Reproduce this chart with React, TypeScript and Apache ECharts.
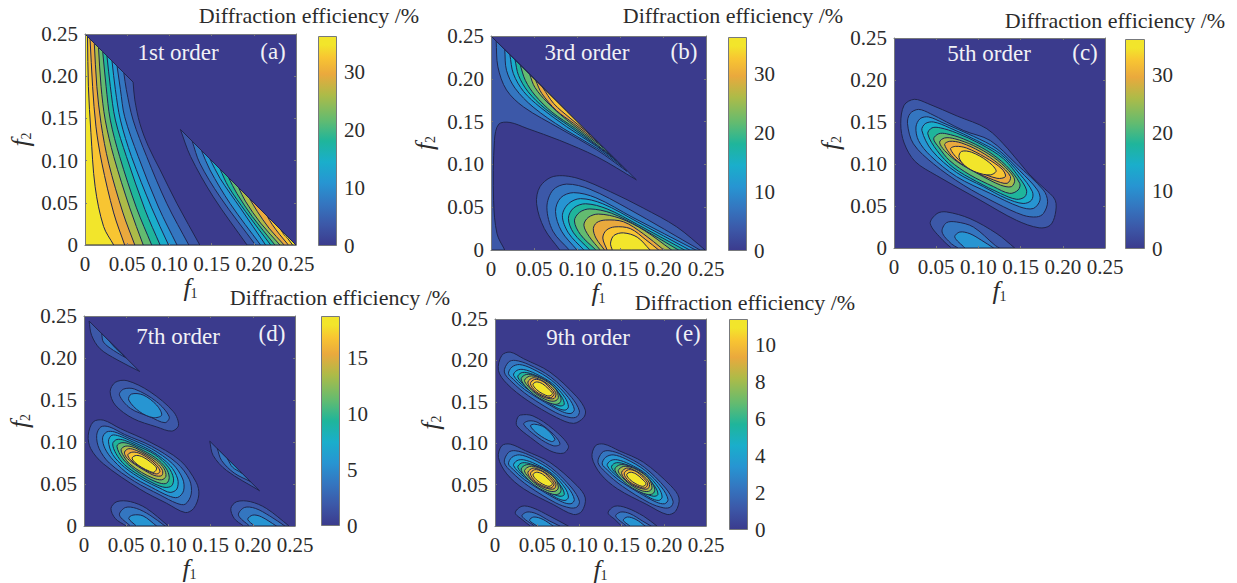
import React, { useEffect, useRef } from "react";
import * as echarts from "echarts";

// [band, [[f1, f2, isCorner?], ...]] — contour outlines
type Pt = number[];
type Contour = [number, Pt[]];

const tickValues = ["0", "0.05", "0.10", "0.15", "0.20", "0.25"];
const barMaxima = [36.3, 36.3, 36.3, 18.75, 11.4];
const barIntervals = [10, 10, 10, 5, 2];
const orderLabels = ["1st order", "3rd order", "5th order", "7th order", "9th order"];
const panelTags = ["(a)", "(b)", "(c)", "(d)", "(e)"];
const barTitle = "Diffraction efficiency /%";

const contoursA: Contour[] = [
  [1, [[0, 0, 1], [0, 0.25, 1], [0.057, 0.193, 1], [0.059, 0.172], [0.065, 0.144], [0.075, 0.117], [0.089, 0.089], [0.109, 0.049], [0.136, 0, 1]]],
  [2, [[0, 0, 1], [0, 0.25, 1], [0.046, 0.204, 1], [0.049, 0.184], [0.057, 0.148], [0.073, 0.105], [0.097, 0.049], [0.123, 0, 1]]],
  [3, [[0, 0, 1], [0, 0.25, 1], [0.038, 0.212, 1], [0.042, 0.184], [0.047, 0.152], [0.063, 0.105], [0.087, 0.045], [0.109, 0, 1]]],
  [4, [[0, 0, 1], [0, 0.25, 1], [0.032, 0.218, 1], [0.036, 0.184], [0.042, 0.148], [0.055, 0.105], [0.079, 0.044], [0.099, 0, 1]]],
  [5, [[0, 0, 1], [0, 0.25, 1], [0.026, 0.224, 1], [0.03, 0.188], [0.036, 0.148], [0.049, 0.105], [0.071, 0.042], [0.089, 0, 1]]],
  [6, [[0, 0, 1], [0, 0.25, 1], [0.021, 0.229, 1], [0.025, 0.188], [0.03, 0.148], [0.041, 0.105], [0.061, 0.044], [0.079, 0, 1]]],
  [7, [[0, 0, 1], [0, 0.25, 1], [0.016, 0.234, 1], [0.019, 0.188], [0.024, 0.148], [0.034, 0.105], [0.053, 0.044], [0.069, 0, 1]]],
  [8, [[0, 0, 1], [0, 0.25, 1], [0.011, 0.239, 1], [0.014, 0.188], [0.019, 0.144], [0.028, 0.097], [0.045, 0.038], [0.059, 0, 1]]],
  [9, [[0, 0, 1], [0, 0.25, 1], [0.006, 0.244, 1], [0.009, 0.188], [0.013, 0.14], [0.02, 0.097], [0.034, 0.038], [0.047, 0, 1]]],
  [10, [[0, 0, 1], [0, 0.25, 1], [0.003, 0.247, 1], [0.004, 0.188], [0.007, 0.133], [0.012, 0.069], [0.022, 0.022], [0.034, 0, 1]]],
  [1, [[0.25, 0, 1], [0.113, 0.137, 1], [0.125, 0.105], [0.152, 0.057], [0.192, 0, 1]]],
  [2, [[0.25, 0, 1], [0.127, 0.123, 1], [0.136, 0.097], [0.16, 0.057], [0.202, 0, 1]]],
  [3, [[0.25, 0, 1], [0.138, 0.112, 1], [0.148, 0.089], [0.172, 0.049], [0.208, 0, 1]]],
  [4, [[0.25, 0, 1], [0.148, 0.102, 1], [0.16, 0.079], [0.184, 0.044], [0.214, 0, 1]]],
  [5, [[0.25, 0, 1], [0.16, 0.09, 1], [0.17, 0.069], [0.19, 0.04], [0.22, 0, 1]]],
  [6, [[0.25, 0, 1], [0.17, 0.08, 1], [0.18, 0.061], [0.198, 0.034], [0.225, 0, 1]]],
  [7, [[0.25, 0, 1], [0.182, 0.068, 1], [0.19, 0.052], [0.208, 0.026], [0.231, 0, 1]]],
  [8, [[0.25, 0, 1], [0.195, 0.055, 1], [0.204, 0.04], [0.218, 0.02], [0.236, 0, 1]]],
  [9, [[0.25, 0, 1], [0.216, 0.034, 1], [0.222, 0.024], [0.231, 0.012], [0.241, 0, 1]]],
  [10, [[0.25, 0, 1], [0.232, 0.018, 1], [0.236, 0.012], [0.24, 0.008], [0.246, 0, 1]]],
];

const contoursB: Contour[] = [
  [1, [[0, 0, 1], [0, 0.25, 1], [0.169, 0.082, 1], [0.123, 0.109], [0.08, 0.128], [0.042, 0.142], [0.022, 0.149], [0.009, 0.147], [0.004, 0.128], [0.003, 0.058], [0.007, 0.019], [0.016, 0, 1]]],
  [2, [[0.006, 0.244, 1], [0.008, 0.214], [0.018, 0.187], [0.038, 0.167], [0.08, 0.142], [0.123, 0.117], [0.158, 0.092, 1]]],
  [3, [[0.016, 0.234, 1], [0.018, 0.21], [0.028, 0.189], [0.049, 0.167], [0.084, 0.142], [0.123, 0.119], [0.152, 0.098, 1]]],
  [4, [[0.022, 0.228, 1], [0.026, 0.206], [0.038, 0.185], [0.057, 0.167], [0.088, 0.144], [0.123, 0.121], [0.146, 0.104, 1]]],
  [5, [[0.028, 0.222, 1], [0.032, 0.204], [0.043, 0.185], [0.063, 0.165], [0.092, 0.144], [0.123, 0.122], [0.142, 0.108, 1]]],
  [6, [[0.034, 0.216, 1], [0.04, 0.198], [0.051, 0.181], [0.071, 0.161], [0.098, 0.142], [0.139, 0.111, 1]]],
  [7, [[0.045, 0.205, 1], [0.051, 0.19], [0.065, 0.173], [0.088, 0.152], [0.13, 0.12, 1]]],
  [8, [[0.052, 0.198, 1], [0.059, 0.183], [0.076, 0.163], [0.096, 0.148], [0.124, 0.126, 1]]],
  [9, [[0.06, 0.19, 1], [0.073, 0.171], [0.092, 0.154], [0.115, 0.135, 1]]],
  [1, [[0.08, 0, 1], [0.062, 0.025], [0.053, 0.054], [0.057, 0.074], [0.073, 0.086], [0.1, 0.084], [0.139, 0.068], [0.177, 0.049], [0.216, 0.027], [0.249, 0, 1]]],
  [2, [[0.091, 0, 1], [0.072, 0.022], [0.065, 0.05], [0.072, 0.07], [0.088, 0.077], [0.115, 0.071], [0.16, 0.048], [0.243, 0, 1]]],
  [3, [[0.1, 0, 1], [0.082, 0.022], [0.075, 0.045], [0.081, 0.061], [0.096, 0.067], [0.122, 0.061], [0.165, 0.038], [0.238, 0, 1]]],
  [4, [[0.108, 0, 1], [0.09, 0.02], [0.083, 0.04], [0.09, 0.054], [0.104, 0.06], [0.13, 0.054], [0.17, 0.033], [0.231, 0, 1]]],
  [5, [[0.115, 0, 1], [0.096, 0.02], [0.09, 0.037], [0.096, 0.049], [0.11, 0.054], [0.135, 0.048], [0.17, 0.03], [0.225, 0, 1]]],
  [6, [[0.122, 0, 1], [0.104, 0.018], [0.097, 0.034], [0.103, 0.044], [0.115, 0.048], [0.14, 0.043], [0.172, 0.027], [0.218, 0, 1]]],
  [7, [[0.127, 0, 1], [0.114, 0.016], [0.108, 0.029], [0.113, 0.038], [0.125, 0.042], [0.15, 0.037], [0.178, 0.023], [0.21, 0, 1]]],
  [8, [[0.132, 0, 1], [0.122, 0.014], [0.119, 0.025], [0.123, 0.032], [0.133, 0.035], [0.154, 0.033], [0.177, 0.019], [0.201, 0, 1]]],
  [9, [[0.135, 0, 1], [0.13, 0.014], [0.134, 0.023], [0.144, 0.027], [0.162, 0.025], [0.18, 0.012], [0.195, 0, 1]]],
  [10, [[0.141, 0, 1], [0.139, 0.008], [0.143, 0.017], [0.154, 0.02], [0.17, 0.015], [0.185, 0, 1]]],
];

const contoursC: Contour[] = [
  [1, [[0.008, 0.148], [0.012, 0.17], [0.024, 0.177], [0.04, 0.172], [0.075, 0.157], [0.11, 0.142], [0.135, 0.118], [0.16, 0.088], [0.178, 0.071], [0.191, 0.057], [0.191, 0.04], [0.185, 0.027], [0.172, 0.024], [0.145, 0.033], [0.102, 0.057], [0.05, 0.0865], [0.025, 0.103], [0.012, 0.125]]],
  [2, [[0.016, 0.148], [0.019, 0.16], [0.029, 0.165], [0.043, 0.16], [0.082, 0.14], [0.114, 0.128], [0.145, 0.1], [0.177, 0.069], [0.182, 0.055], [0.177, 0.041], [0.169, 0.037], [0.153, 0.039], [0.122, 0.053], [0.082, 0.075], [0.047, 0.1], [0.023, 0.124]]],
  [3, [[0.026, 0.144], [0.031, 0.154], [0.041, 0.156], [0.058, 0.149], [0.094, 0.133], [0.122, 0.118], [0.149, 0.092], [0.17, 0.069], [0.173, 0.057], [0.165, 0.047], [0.149, 0.049], [0.114, 0.065], [0.074, 0.085], [0.043, 0.11], [0.029, 0.128]]],
  [4, [[0.033, 0.14], [0.037, 0.148], [0.047, 0.15], [0.066, 0.143], [0.098, 0.128], [0.126, 0.112], [0.149, 0.088], [0.164, 0.067], [0.163, 0.057], [0.153, 0.053], [0.133, 0.059], [0.106, 0.073], [0.074, 0.09], [0.045, 0.116]]],
  [5, [[0.04, 0.136], [0.045, 0.143], [0.055, 0.143], [0.074, 0.137], [0.102, 0.124], [0.13, 0.106], [0.149, 0.083], [0.157, 0.069], [0.155, 0.061], [0.145, 0.058], [0.126, 0.065], [0.098, 0.079], [0.07, 0.096], [0.051, 0.116]]],
  [6, [[0.047, 0.13], [0.053, 0.136], [0.062, 0.136], [0.082, 0.13], [0.11, 0.116], [0.133, 0.098], [0.149, 0.077], [0.147, 0.069], [0.137, 0.065], [0.118, 0.073], [0.09, 0.087], [0.066, 0.104], [0.053, 0.12]]],
  [7, [[0.054, 0.126], [0.06, 0.131], [0.072, 0.13], [0.094, 0.122], [0.118, 0.108], [0.136, 0.092], [0.143, 0.081], [0.139, 0.073], [0.126, 0.075], [0.102, 0.087], [0.076, 0.102], [0.06, 0.116]]],
  [8, [[0.06, 0.123], [0.066, 0.127], [0.08, 0.125], [0.102, 0.115], [0.124, 0.1], [0.138, 0.085], [0.134, 0.077], [0.118, 0.081], [0.094, 0.092], [0.072, 0.106]]],
  [9, [[0.067, 0.118], [0.073, 0.121], [0.086, 0.119], [0.108, 0.108], [0.128, 0.094], [0.132, 0.085], [0.122, 0.083], [0.098, 0.092], [0.078, 0.104]]],
  [10, [[0.077, 0.108], [0.08, 0.115], [0.092, 0.114], [0.11, 0.104], [0.121, 0.092], [0.114, 0.087], [0.098, 0.09], [0.084, 0.098]]],
  [1, [[0.043, 0.029], [0.051, 0.041], [0.062, 0.043], [0.09, 0.035], [0.122, 0.017], [0.143, 0, 1], [0.068, 0, 1], [0.058, 0.009]]],
  [2, [[0.057, 0.019], [0.062, 0.03], [0.074, 0.031], [0.094, 0.025], [0.12, 0.003], [0.125, 0, 1], [0.076, 0, 1], [0.068, 0.005]]],
  [3, [[0.072, 0.013], [0.078, 0.019], [0.09, 0.017], [0.104, 0.009], [0.118, 0, 1], [0.084, 0, 1]]],
];

const contoursD: Contour[] = [
  [1, [[0.006, 0.244, 1], [0.009, 0.227], [0.019, 0.211], [0.039, 0.198], [0.066, 0.184, 1]]],
  [2, [[0.021, 0.229, 1], [0.023, 0.219], [0.035, 0.209], [0.05, 0.2, 1]]],
  [3, [[0.03, 0.22, 1], [0.037, 0.212], [0.048, 0.202, 1]]],
  [1, [[0.031, 0.16], [0.037, 0.171], [0.051, 0.173], [0.078, 0.16], [0.106, 0.136], [0.112, 0.12], [0.104, 0.113], [0.086, 0.118], [0.058, 0.128], [0.037, 0.144]]],
  [2, [[0.042, 0.156], [0.047, 0.163], [0.06, 0.163], [0.086, 0.148], [0.101, 0.13], [0.096, 0.123], [0.078, 0.13], [0.055, 0.14]]],
  [3, [[0.053, 0.15], [0.056, 0.157], [0.07, 0.156], [0.086, 0.144], [0.092, 0.132], [0.082, 0.129], [0.066, 0.136]]],
  [1, [[0.005, 0.108], [0.011, 0.124], [0.023, 0.126], [0.043, 0.116], [0.078, 0.1], [0.114, 0.078], [0.133, 0.052], [0.136, 0.037], [0.13, 0.021], [0.12, 0.016], [0.098, 0.027], [0.066, 0.044], [0.023, 0.074], [0.008, 0.092]]],
  [2, [[0.015, 0.108], [0.02, 0.118], [0.03, 0.118], [0.048, 0.109], [0.08, 0.095], [0.11, 0.075], [0.125, 0.055], [0.127, 0.038], [0.12, 0.026], [0.11, 0.027], [0.09, 0.037], [0.06, 0.053], [0.03, 0.075], [0.018, 0.092]]],
  [3, [[0.022, 0.105], [0.027, 0.112], [0.036, 0.112], [0.052, 0.105], [0.08, 0.092], [0.105, 0.074], [0.117, 0.056], [0.118, 0.042], [0.111, 0.034], [0.1, 0.036], [0.08, 0.046], [0.055, 0.06], [0.035, 0.078], [0.025, 0.092]]],
  [4, [[0.029, 0.101], [0.033, 0.108], [0.042, 0.107], [0.058, 0.1], [0.082, 0.088], [0.102, 0.072], [0.111, 0.056], [0.11, 0.044], [0.102, 0.04], [0.09, 0.045], [0.07, 0.055], [0.048, 0.07], [0.034, 0.085]]],
  [5, [[0.034, 0.098], [0.039, 0.103], [0.048, 0.102], [0.062, 0.096], [0.084, 0.085], [0.1, 0.07], [0.106, 0.057], [0.104, 0.048], [0.096, 0.046], [0.084, 0.05], [0.066, 0.06], [0.048, 0.073], [0.038, 0.086]]],
  [6, [[0.039, 0.095], [0.044, 0.099], [0.053, 0.098], [0.066, 0.092], [0.085, 0.081], [0.097, 0.069], [0.101, 0.058], [0.098, 0.051], [0.09, 0.051], [0.076, 0.057], [0.06, 0.067], [0.046, 0.08]]],
  [7, [[0.044, 0.091], [0.049, 0.095], [0.058, 0.094], [0.07, 0.088], [0.086, 0.078], [0.095, 0.068], [0.097, 0.059], [0.092, 0.055], [0.082, 0.057], [0.068, 0.064], [0.054, 0.074], [0.047, 0.083]]],
  [8, [[0.048, 0.088], [0.053, 0.092], [0.062, 0.09], [0.074, 0.084], [0.086, 0.075], [0.093, 0.066], [0.092, 0.06], [0.084, 0.06], [0.072, 0.066], [0.058, 0.075], [0.05, 0.082]]],
  [9, [[0.052, 0.085], [0.058, 0.088], [0.067, 0.086], [0.077, 0.08], [0.086, 0.072], [0.09, 0.065], [0.086, 0.062], [0.076, 0.065], [0.064, 0.072], [0.055, 0.079]]],
  [10, [[0.057, 0.081], [0.062, 0.084], [0.07, 0.082], [0.079, 0.076], [0.086, 0.069], [0.083, 0.064], [0.078, 0.065], [0.068, 0.07], [0.06, 0.076]]],
  [1, [[0.149, 0.101, 1], [0.153, 0.084], [0.169, 0.066], [0.208, 0.042, 1]]],
  [2, [[0.158, 0.092, 1], [0.163, 0.078], [0.178, 0.063], [0.197, 0.053, 1]]],
  [3, [[0.17, 0.08, 1], [0.176, 0.07], [0.187, 0.063, 1]]],
  [1, [[0.032, 0.021], [0.039, 0.029], [0.055, 0.029], [0.074, 0.021], [0.1, 0, 1], [0.05, 0, 1], [0.037, 0.009]]],
  [2, [[0.042, 0.013], [0.049, 0.022], [0.062, 0.021], [0.078, 0.013], [0.096, 0, 1], [0.055, 0, 1]]],
  [3, [[0.053, 0.009], [0.058, 0.013], [0.07, 0.012], [0.086, 0, 1], [0.062, 0, 1]]],
  [1, [[0.174, 0.021], [0.181, 0.029], [0.197, 0.029], [0.216, 0.021], [0.243, 0, 1], [0.189, 0, 1], [0.178, 0.009]]],
  [2, [[0.183, 0.013], [0.19, 0.022], [0.203, 0.021], [0.22, 0.012], [0.238, 0, 1], [0.196, 0, 1]]],
  [3, [[0.194, 0.008], [0.2, 0.013], [0.21, 0.011], [0.228, 0, 1], [0.202, 0, 1]]],
];

const contoursE: Contour[] = [
  [1, [[0.004, 0.188], [0.008, 0.206], [0.018, 0.21], [0.034, 0.202], [0.065, 0.186], [0.097, 0.156], [0.107, 0.14], [0.105, 0.131], [0.093, 0.124], [0.073, 0.131], [0.038, 0.152], [0.014, 0.172]]],
  [2, [[0.011, 0.186], [0.016, 0.198], [0.024, 0.2], [0.04, 0.195], [0.066, 0.18], [0.091, 0.155], [0.1, 0.139], [0.097, 0.132], [0.089, 0.131], [0.072, 0.137], [0.04, 0.157], [0.02, 0.174]]],
  [3, [[0.016, 0.184], [0.02, 0.192], [0.029, 0.195], [0.044, 0.19], [0.067, 0.176], [0.087, 0.155], [0.094, 0.141], [0.09, 0.136], [0.08, 0.138], [0.06, 0.149], [0.035, 0.165], [0.022, 0.177]]],
  [4, [[0.022, 0.182], [0.026, 0.188], [0.034, 0.189], [0.048, 0.184], [0.068, 0.172], [0.083, 0.155], [0.087, 0.144], [0.083, 0.14], [0.073, 0.143], [0.055, 0.154], [0.035, 0.168]]],
  [5, [[0.027, 0.18], [0.031, 0.185], [0.039, 0.185], [0.052, 0.18], [0.068, 0.169], [0.079, 0.156], [0.082, 0.147], [0.077, 0.145], [0.066, 0.149], [0.05, 0.158], [0.035, 0.17]]],
  [6, [[0.031, 0.178], [0.037, 0.183], [0.047, 0.182], [0.059, 0.177], [0.071, 0.167], [0.078, 0.155], [0.077, 0.149], [0.071, 0.147], [0.059, 0.151], [0.046, 0.159], [0.035, 0.17]]],
  [7, [[0.035, 0.176], [0.041, 0.181], [0.05, 0.18], [0.062, 0.174], [0.072, 0.165], [0.075, 0.155], [0.071, 0.151], [0.062, 0.152], [0.048, 0.16], [0.039, 0.169]]],
  [8, [[0.039, 0.174], [0.045, 0.179], [0.053, 0.177], [0.063, 0.171], [0.072, 0.161], [0.07, 0.154], [0.06, 0.155], [0.05, 0.16], [0.042, 0.167]]],
  [9, [[0.042, 0.172], [0.047, 0.177], [0.056, 0.175], [0.064, 0.168], [0.07, 0.16], [0.066, 0.155], [0.056, 0.158], [0.048, 0.163]]],
  [10, [[0.045, 0.171], [0.049, 0.174], [0.056, 0.172], [0.063, 0.166], [0.068, 0.16], [0.064, 0.157], [0.056, 0.16], [0.049, 0.165]]],
  [1, [[0.026, 0.129], [0.03, 0.134], [0.045, 0.133], [0.069, 0.117], [0.087, 0.097], [0.081, 0.088], [0.065, 0.091], [0.042, 0.107], [0.026, 0.121]]],
  [2, [[0.034, 0.123], [0.04, 0.127], [0.051, 0.125], [0.069, 0.111], [0.077, 0.099], [0.069, 0.097], [0.051, 0.107]]],
  [3, [[0.042, 0.121], [0.047, 0.123], [0.059, 0.119], [0.071, 0.105], [0.067, 0.102], [0.051, 0.111]]],
  [1, [[0.004, 0.083], [0.008, 0.097], [0.018, 0.099], [0.036, 0.091], [0.065, 0.077], [0.097, 0.049], [0.107, 0.034], [0.103, 0.018], [0.093, 0.014], [0.069, 0.026], [0.034, 0.045], [0.014, 0.063]]],
  [2, [[0.011, 0.077], [0.016, 0.089], [0.024, 0.091], [0.04, 0.086], [0.066, 0.071], [0.091, 0.046], [0.1, 0.03], [0.097, 0.023], [0.089, 0.022], [0.072, 0.028], [0.04, 0.048], [0.02, 0.065]]],
  [3, [[0.016, 0.075], [0.02, 0.083], [0.029, 0.086], [0.044, 0.081], [0.067, 0.067], [0.087, 0.046], [0.094, 0.032], [0.09, 0.027], [0.08, 0.029], [0.06, 0.04], [0.035, 0.056], [0.022, 0.068]]],
  [4, [[0.022, 0.073], [0.026, 0.079], [0.034, 0.08], [0.048, 0.075], [0.068, 0.063], [0.083, 0.046], [0.087, 0.035], [0.083, 0.031], [0.073, 0.034], [0.055, 0.045], [0.035, 0.059]]],
  [5, [[0.027, 0.071], [0.031, 0.076], [0.039, 0.076], [0.052, 0.071], [0.068, 0.06], [0.079, 0.047], [0.082, 0.038], [0.077, 0.036], [0.066, 0.04], [0.05, 0.049], [0.035, 0.061]]],
  [6, [[0.031, 0.069], [0.037, 0.074], [0.047, 0.073], [0.059, 0.068], [0.071, 0.058], [0.078, 0.046], [0.077, 0.04], [0.071, 0.038], [0.059, 0.042], [0.046, 0.05], [0.035, 0.061]]],
  [7, [[0.035, 0.067], [0.041, 0.072], [0.05, 0.071], [0.062, 0.065], [0.072, 0.056], [0.075, 0.046], [0.071, 0.042], [0.062, 0.043], [0.048, 0.051], [0.039, 0.06]]],
  [8, [[0.039, 0.065], [0.045, 0.07], [0.053, 0.068], [0.063, 0.062], [0.072, 0.052], [0.07, 0.045], [0.06, 0.046], [0.05, 0.051], [0.042, 0.058]]],
  [9, [[0.042, 0.063], [0.047, 0.068], [0.056, 0.066], [0.064, 0.059], [0.07, 0.051], [0.066, 0.046], [0.056, 0.049], [0.048, 0.054]]],
  [10, [[0.045, 0.062], [0.049, 0.065], [0.056, 0.063], [0.063, 0.057], [0.068, 0.051], [0.064, 0.048], [0.056, 0.051], [0.049, 0.056]]],
  [1, [[0.115, 0.083], [0.119, 0.097], [0.129, 0.099], [0.147, 0.091], [0.176, 0.077], [0.208, 0.049], [0.218, 0.034], [0.214, 0.018], [0.204, 0.014], [0.18, 0.026], [0.145, 0.045], [0.125, 0.063]]],
  [2, [[0.122, 0.077], [0.127, 0.089], [0.135, 0.091], [0.151, 0.086], [0.177, 0.071], [0.202, 0.046], [0.211, 0.03], [0.208, 0.023], [0.2, 0.022], [0.183, 0.028], [0.151, 0.048], [0.131, 0.065]]],
  [3, [[0.127, 0.075], [0.131, 0.083], [0.14, 0.086], [0.155, 0.081], [0.178, 0.067], [0.198, 0.046], [0.205, 0.032], [0.201, 0.027], [0.191, 0.029], [0.171, 0.04], [0.146, 0.056], [0.133, 0.068]]],
  [4, [[0.133, 0.073], [0.137, 0.079], [0.145, 0.08], [0.159, 0.075], [0.179, 0.063], [0.194, 0.046], [0.198, 0.035], [0.194, 0.031], [0.184, 0.034], [0.166, 0.045], [0.146, 0.059]]],
  [5, [[0.138, 0.071], [0.142, 0.076], [0.15, 0.076], [0.163, 0.071], [0.179, 0.06], [0.19, 0.047], [0.193, 0.038], [0.188, 0.036], [0.177, 0.04], [0.161, 0.049], [0.146, 0.061]]],
  [6, [[0.142, 0.069], [0.148, 0.074], [0.158, 0.073], [0.17, 0.068], [0.182, 0.058], [0.189, 0.046], [0.188, 0.04], [0.182, 0.038], [0.17, 0.042], [0.157, 0.05], [0.146, 0.061]]],
  [7, [[0.146, 0.067], [0.152, 0.072], [0.161, 0.071], [0.173, 0.065], [0.183, 0.056], [0.186, 0.046], [0.182, 0.042], [0.173, 0.043], [0.159, 0.051], [0.15, 0.06]]],
  [8, [[0.15, 0.065], [0.156, 0.07], [0.164, 0.068], [0.174, 0.062], [0.183, 0.052], [0.181, 0.045], [0.171, 0.046], [0.161, 0.051], [0.153, 0.058]]],
  [9, [[0.153, 0.063], [0.158, 0.068], [0.167, 0.066], [0.175, 0.059], [0.181, 0.051], [0.177, 0.046], [0.167, 0.049], [0.159, 0.054]]],
  [10, [[0.156, 0.062], [0.16, 0.065], [0.167, 0.063], [0.174, 0.057], [0.179, 0.051], [0.175, 0.048], [0.167, 0.051], [0.16, 0.056]]],
  [1, [[0.024, 0.016], [0.032, 0.024], [0.045, 0.022], [0.065, 0.012], [0.087, 0, 1], [0.042, 0, 1], [0.032, 0.008]]],
  [2, [[0.032, 0.012], [0.038, 0.017], [0.049, 0.015], [0.065, 0.006], [0.077, 0, 1], [0.047, 0, 1]]],
  [3, [[0.041, 0.007], [0.046, 0.011], [0.057, 0.008], [0.069, 0, 1], [0.05, 0, 1]]],
  [1, [[0.134, 0.016], [0.142, 0.024], [0.156, 0.022], [0.176, 0.012], [0.192, 0, 1], [0.15, 0, 1], [0.142, 0.008]]],
  [2, [[0.143, 0.012], [0.149, 0.017], [0.16, 0.015], [0.175, 0.006], [0.185, 0, 1], [0.156, 0, 1]]],
  [3, [[0.152, 0.007], [0.157, 0.011], [0.167, 0.008], [0.178, 0, 1], [0.16, 0, 1]]],
];

const panelContours = [contoursA, contoursB, contoursC, contoursD, contoursE];

// styling and layout
const bandColors = ["#3b3b8d", "#3c58a8", "#3476c0", "#2795d2", "#1aaecb", "#1fb59b", "#63bb70", "#adbb48", "#eaa93d", "#f8c532", "#f2e52b"];
const gradientStops = [
  { offset: 0, color: "#3b3b8d" }, { offset: 0.1, color: "#3c58a8" }, { offset: 0.2, color: "#3476c0" },
  { offset: 0.3, color: "#2795d2" }, { offset: 0.4, color: "#1aaecb" }, { offset: 0.5, color: "#1fb59b" },
  { offset: 0.6, color: "#63bb70" }, { offset: 0.72, color: "#adbb48" }, { offset: 0.82, color: "#eaa93d" },
  { offset: 0.9, color: "#f8c532" }, { offset: 0.96, color: "#f2e52b" }, { offset: 1, color: "#f2e52b" },
];
const plotBoxes = [[85, 34, 211, 211], [491, 36, 215, 214], [894, 38, 211, 210], [84, 316, 211, 210], [495, 319, 211, 211]];
const barBoxes = [[318, 36, 19, 210], [728, 37, 19, 214], [1125, 39, 20, 210], [321, 316, 19, 210], [729, 319, 19, 211]];
const titleAnchors = [[309, 15], [733, 15], [1115, 20], [340, 297], [745, 302]];
const orderAnchors = [[178, 52], [587, 52], [989, 53], [178, 336], [588, 337]];
const tagAnchors = [[273, 51], [684, 51], [1085, 52], [272, 333], [688, 333]];
const xNameGaps = [26, 28, 25, 26, 27];
const yNameGaps = [52, 54, 51, 52, 52];

const SERIF = "'Liberation Serif', 'DejaVu Serif', serif";
const TEXT = "#2b2b2b";
const FRAME = "#77797c";

function buildOption() {
  const grid: any[] = [];
  const xAxis: any[] = [];
  const yAxis: any[] = [];
  const series: any[] = [];
  const graphic: any[] = [];
  const label = (v: number) => tickValues[Math.round(v / 0.05)] ?? "";
  const nameRich = {
    i: { fontFamily: SERIF, fontStyle: "italic", fontSize: 26, color: TEXT, lineHeight: 26 },
    s: { fontFamily: SERIF, fontSize: 14, color: TEXT, verticalAlign: "bottom", lineHeight: 14, padding: [8, 0, 0, 0] },
  };

  plotBoxes.forEach((box, p) => {
    const gi = grid.length;
    grid.push({ left: box[0], top: box[1], width: box[2], height: box[3], show: true, backgroundColor: bandColors[0], borderWidth: 0 });
    const xi = xAxis.length;
    const common = { min: 0, max: 0.25, interval: 0.05, gridIndex: gi, splitLine: { show: false }, z: 10 };
    const line = { show: true, onZero: false, lineStyle: { color: FRAME, width: 1 } };
    const tick = { show: true, inside: true, length: 2, lineStyle: { color: FRAME, width: 1 } };
    xAxis.push({
      ...common, type: "value", position: "bottom", axisLine: line, axisTick: tick,
      axisLabel: { formatter: label, fontFamily: SERIF, fontSize: 21, color: TEXT, margin: 8 },
      name: "{i|f}{s|1}", nameLocation: "middle", nameGap: xNameGaps[p], nameTextStyle: { rich: nameRich },
    });
    xAxis.push({ ...common, type: "value", position: "top", axisLine: line, axisTick: tick, axisLabel: { show: false } });
    const yi = yAxis.length;
    yAxis.push({
      ...common, type: "value", position: "left", axisLine: line, axisTick: tick,
      axisLabel: { formatter: label, fontFamily: SERIF, fontSize: 21, color: TEXT, margin: 7 },
      name: "{i|f}{s|2}", nameLocation: "middle", nameGap: yNameGaps[p], nameRotate: 90, nameTextStyle: { rich: nameRich },
    });
    yAxis.push({ ...common, type: "value", position: "right", axisLine: line, axisTick: tick, axisLabel: { show: false } });

    const contours = panelContours[p];
    series.push({
      type: "custom",
      xAxisIndex: xi,
      yAxisIndex: yi,
      clip: true,
      silent: true,
      data: contours.map((_, i) => [i]),
      encode: { x: 0, y: -1 },
      renderItem: (params: any, api: any) => {
        const [band, pts] = contours[params.dataIndex];
        const points: number[][] = [];
        pts.forEach((pt) => {
          const c = api.coord([pt[0], pt[1]]);
          points.push(c);
          if (pt[2]) points.push([c[0], c[1]]);
        });
        return {
          type: "polygon",
          shape: { points, smooth: 0.33 },
          style: { fill: bandColors[band], stroke: "#20254f", lineWidth: 1 },
        };
      },
    });

    // colour bar
    const bar = barBoxes[p];
    const bg = grid.length;
    grid.push({ left: bar[0], top: bar[1], width: bar[2], height: bar[3] });
    const bx = xAxis.length;
    xAxis.push({ type: "category", gridIndex: bg, data: [""], show: false });
    const by = yAxis.length;
    yAxis.push({
      type: "value", gridIndex: bg, position: "right", min: 0, max: barMaxima[p], interval: barIntervals[p],
      axisLine: { show: false }, axisTick: { show: false }, splitLine: { show: false },
      axisLabel: { showMaxLabel: false, fontFamily: SERIF, fontSize: 21, color: TEXT, margin: 7 },
    });
    series.push({
      type: "bar", xAxisIndex: bx, yAxisIndex: by, barWidth: "100%", silent: true,
      data: [barMaxima[p]],
      itemStyle: {
        color: { type: "linear", x: 0, y: 1, x2: 0, y2: 0, colorStops: gradientStops },
        borderColor: FRAME, borderWidth: 1,
      },
    });

    const txt = (text: string, x: number, y: number, fill: string, size: number, align: string) => ({
      type: "text", x, y, z: 100, silent: true,
      style: { text, fill, fontFamily: SERIF, fontSize: size, align, verticalAlign: "middle" },
    });
    graphic.push(txt(barTitle, titleAnchors[p][0], titleAnchors[p][1], TEXT, 22, "center"));
    graphic.push(txt(orderLabels[p], orderAnchors[p][0], orderAnchors[p][1], "#f1f1f6", 23, "center"));
    graphic.push(txt(panelTags[p], tagAnchors[p][0], tagAnchors[p][1], "#f1f1f6", 23, "center"));
  });

  return { animation: false, backgroundColor: "#ffffff", grid, xAxis, yAxis, series, graphic };
}

export default function App() {
  const ref = useRef<HTMLDivElement>(null);
  useEffect(() => {
    const chart = echarts.init(ref.current!, undefined, { renderer: "svg" });
    chart.setOption(buildOption() as any);
    return () => chart.dispose();
  }, []);
  return <div ref={ref} style={{ position: "fixed", left: 0, top: 0, width: 1237, height: 583 }} />;
}
